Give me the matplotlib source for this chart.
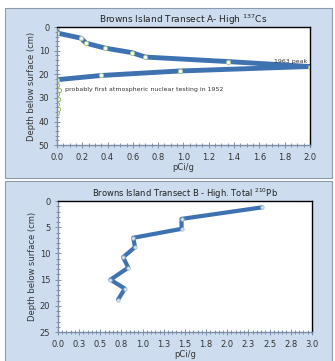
import matplotlib
matplotlib.use('Agg')
import matplotlib.pyplot as plt
from matplotlib.patches import Rectangle
from matplotlib.ticker import MultipleLocator, FixedLocator, FixedFormatter

# 137Cs profile (pCi/g vs depth cm)
cs_x = [0.0, 0.0, 0.19, 0.23, 0.38, 0.59, 0.70, 1.35, 2.0, 0.97, 0.35, 0.0]
cs_depth = [0.0, 2.5, 4.7, 6.8, 8.9, 10.8, 12.7, 14.6, 16.7, 18.6, 20.5, 22.3]
cs_deep_x = [0.0, 0.0, 0.02, 0.0, 0.01, 0.0, 0.01, 0.0]
cs_deep_depth = [22.3, 24.5, 26.5, 28.5, 30.5, 32.5, 34.5, 36.5]

# 210Pb profile
pb_x = [2.41, 1.46, 1.46, 0.89, 0.91, 0.77, 0.83, 0.62, 0.79, 0.71]
pb_depth = [1.2, 3.4, 5.3, 7.0, 8.8, 10.7, 12.7, 15.0, 16.7, 18.8]

pb_ticks = [0, 0.25, 0.5, 0.75, 1.0, 1.25, 1.5, 1.75, 2.0, 2.25, 2.5, 2.75, 3.0]
pb_labels = ['0.0', '0.3', '0.5', '0.8', '1.0', '1.3', '1.5', '1.8', '2.0', '2.3', '2.5', '2.8', '3.0']

line_c = '#3f72b0'
panel_c = '#cddcef'
fs = 6

fig = plt.figure(figsize=(3.35, 3.61), dpi=100)
fig.patches.append(Rectangle((0.015, 0.507), 0.976, 0.471, transform=fig.transFigure,
                             facecolor=panel_c, edgecolor='#8a9bb0', lw=0.8, zorder=-10))
fig.patches.append(Rectangle((0.015, -0.01), 0.976, 0.509, transform=fig.transFigure,
                             facecolor=panel_c, edgecolor='#8a9bb0', lw=0.8, zorder=-10))

def style(ax):
    for s in ['top', 'right']:
        ax.spines[s].set_color('black')
        ax.spines[s].set_linewidth(1.0)
    for s in ['left', 'bottom']:
        ax.spines[s].set_color('#7f8fa8')
        ax.spines[s].set_linewidth(1.0)
    ax.tick_params(which='both', direction='inout', colors='#7f8fa8', labelcolor='#333333',
                   labelsize=fs, length=4, width=0.7)
    ax.tick_params(which='minor', length=3)
    ax.set_facecolor('white')

# top chart
ax1 = fig.add_axes([0.170, 0.598, 0.755, 0.327])
ax1.plot(cs_deep_x, cs_deep_depth, color='#8fbf5a', lw=0.8, ls='--', marker='o', ms=3,
         mfc='white', mec='#8fbf5a', mew=0.7)
ax1.plot(cs_x, cs_depth, color=line_c, lw=3.5, solid_capstyle='round')
ax1.plot(cs_x, cs_depth, ls='none', marker='o', ms=3, mfc='white', mec='#a9c98a', mew=0.7)
ax1.set_xlim(0, 2.0)
ax1.set_ylim(50, 0)
ax1.xaxis.set_major_locator(MultipleLocator(0.2))
ax1.xaxis.set_minor_locator(MultipleLocator(0.05))
ax1.yaxis.set_major_locator(MultipleLocator(10))
ax1.yaxis.set_minor_locator(MultipleLocator(2))
ax1.xaxis.set_major_formatter(plt.FuncFormatter(lambda v, p: '%.1f' % v))
style(ax1)
ax1.set_title('Browns Island Transect A- High $^{137}$Cs', fontsize=6.5, pad=3, color='#222222')
ax1.set_xlabel('pCi/g', fontsize=fs, labelpad=1, color='#333333')
ax1.set_ylabel('Depth below surface (cm)', fontsize=fs, labelpad=2, color='#333333')
ax1.text(1.72, 15.3, '1963 peak', fontsize=4.5, color='#333333')
ax1.text(0.06, 27.2, 'probably first atmospheric nuclear testing in 1952', fontsize=4.5, color='#333333')

# bottom chart
ax2 = fig.add_axes([0.173, 0.080, 0.758, 0.363])
ax2.plot(pb_x, pb_depth, color=line_c, lw=3.0, solid_joinstyle='round', solid_capstyle='round')
ax2.plot(pb_x, pb_depth, ls='none', marker='o', ms=2.5, mfc='#d8e4f0', mec='#9fb8d4', mew=0.5)
ax2.set_xlim(0, 3.0)
ax2.set_ylim(25, 0)
ax2.xaxis.set_major_locator(FixedLocator(pb_ticks))
ax2.xaxis.set_major_formatter(FixedFormatter(pb_labels))
ax2.xaxis.set_minor_locator(MultipleLocator(0.05))
ax2.yaxis.set_major_locator(MultipleLocator(5))
ax2.yaxis.set_minor_locator(MultipleLocator(1))
style(ax2)
ax2.set_title('Browns Island Transect B - High. Total $^{210}$Pb', fontsize=6, pad=3, color='#222222')
ax2.set_xlabel('pCi/g', fontsize=fs, labelpad=1, color='#333333')
ax2.set_ylabel('Depth below surface (cm)', fontsize=fs, labelpad=2, color='#333333')

fig.savefig('out.png', dpi=100)
